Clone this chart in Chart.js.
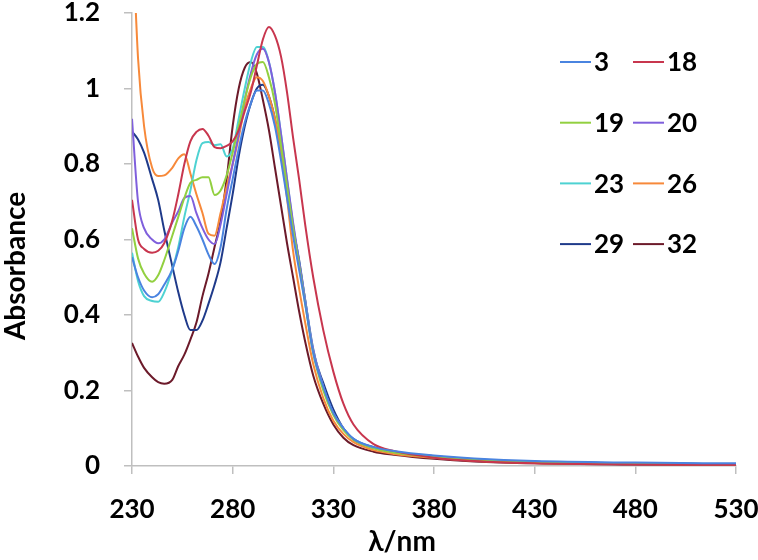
<!DOCTYPE html>
<html>
<head>
<meta charset="utf-8">
<script src="https://cdn.jsdelivr.net/npm/chart.js@4.4.0/dist/chart.umd.min.js"></script>
<style>
  html, body { margin: 0; padding: 0; background: #fff; }
</style>
</head>
<body>
<canvas id="chart1" width="758" height="560"></canvas>
<script>
// wavelengths (nm) shared by all spectra
let wavelengths = [230, 233, 236, 240, 243, 246, 250, 253, 256, 259, 262, 265, 268, 271, 274, 277, 280, 283, 286, 289, 292, 295, 298, 301, 304, 307, 310, 313, 316, 320, 325, 330, 335, 340, 350, 360, 380, 400, 430, 480, 530]

let labels = ['3', '18', '19', '20', '23', '26', '29', '32']

let abs3  = [0.553, 0.50, 0.465, 0.447, 0.455, 0.48, 0.52, 0.57, 0.63, 0.66, 0.635, 0.60, 0.56, 0.535, 0.58, 0.68, 0.76, 0.84, 0.91, 0.96, 0.995, 0.995, 0.96, 0.90, 0.81, 0.71, 0.61, 0.52, 0.43, 0.30, 0.21, 0.14, 0.10, 0.072, 0.05, 0.04, 0.028, 0.02, 0.013, 0.009, 0.007]
let abs18 = [0.705, 0.60, 0.575, 0.565, 0.57, 0.59, 0.65, 0.72, 0.80, 0.86, 0.885, 0.893, 0.875, 0.845, 0.842, 0.848, 0.86, 0.89, 0.94, 0.99, 1.06, 1.13, 1.163, 1.14, 1.085, 0.99, 0.87, 0.76, 0.64, 0.50, 0.36, 0.25, 0.165, 0.11, 0.058, 0.04, 0.022, 0.013, 0.007, 0.004, 0.003]
let abs19 = [0.63, 0.55, 0.51, 0.488, 0.505, 0.545, 0.61, 0.66, 0.71, 0.75, 0.758, 0.765, 0.765, 0.718, 0.73, 0.77, 0.83, 0.90, 0.97, 1.03, 1.065, 1.07, 1.03, 0.96, 0.85, 0.74, 0.63, 0.53, 0.43, 0.30, 0.20, 0.135, 0.095, 0.07, 0.047, 0.036, 0.024, 0.016, 0.010, 0.006, 0.005]
let abs20 = [0.92, 0.70, 0.63, 0.60, 0.59, 0.60, 0.645, 0.675, 0.71, 0.715, 0.67, 0.63, 0.60, 0.588, 0.64, 0.72, 0.80, 0.88, 0.97, 1.04, 1.09, 1.105, 1.07, 0.99, 0.88, 0.76, 0.645, 0.54, 0.44, 0.31, 0.21, 0.14, 0.10, 0.072, 0.048, 0.037, 0.025, 0.017, 0.011, 0.007, 0.005]
let abs23 = [0.565, 0.49, 0.45, 0.437, 0.435, 0.46, 0.52, 0.58, 0.66, 0.73, 0.81, 0.855, 0.858, 0.85, 0.852, 0.82, 0.84, 0.92, 1.00, 1.07, 1.11, 1.11, 1.07, 0.99, 0.88, 0.76, 0.64, 0.54, 0.44, 0.31, 0.21, 0.14, 0.10, 0.072, 0.048, 0.037, 0.025, 0.017, 0.011, 0.007, 0.005]
let abs26 = [1.45, 1.08, 0.90, 0.79, 0.768, 0.77, 0.79, 0.815, 0.826, 0.775, 0.72, 0.67, 0.615, 0.61, 0.67, 0.74, 0.80, 0.87, 0.95, 1.00, 1.03, 1.02, 0.98, 0.92, 0.83, 0.71, 0.57, 0.47, 0.38, 0.27, 0.18, 0.12, 0.085, 0.063, 0.042, 0.032, 0.022, 0.014, 0.008, 0.005, 0.004]
let abs29 = [0.886, 0.865, 0.83, 0.76, 0.705, 0.625, 0.53, 0.46, 0.40, 0.36, 0.36, 0.385, 0.43, 0.48, 0.54, 0.63, 0.72, 0.82, 0.90, 0.96, 1.00, 1.01, 0.98, 0.92, 0.83, 0.73, 0.63, 0.546, 0.44, 0.305, 0.22, 0.15, 0.10, 0.07, 0.05, 0.038, 0.026, 0.018, 0.011, 0.007, 0.005]
let abs32 = [0.326, 0.29, 0.26, 0.235, 0.222, 0.218, 0.228, 0.265, 0.295, 0.335, 0.38, 0.45, 0.51, 0.58, 0.65, 0.76, 0.90, 1.00, 1.055, 1.07, 1.04, 0.97, 0.89, 0.79, 0.69, 0.59, 0.50, 0.41, 0.33, 0.24, 0.165, 0.11, 0.075, 0.055, 0.038, 0.03, 0.019, 0.012, 0.007, 0.004, 0.003]

let colors = ['#4a84e0', '#c8364e', '#92d040', '#7f5fdc', '#4ed2d2', '#f7893a', '#1f3a8a', '#6c1a2a']

let xTicks = [230, 280, 330, 380, 430, 480, 530]
let yTicks = [0, 0.2, 0.4, 0.6, 0.8, 1, 1.2]
let xTitle = 'λ/nm'
let yTitle = 'Absorbance'

let series = [abs3, abs18, abs19, abs20, abs23, abs26, abs29, abs32]

let axisGrey = '#bfbfbf'
let fontFam = 'Lato, "Open Sans", sans-serif'

// legend in two columns inside the plot, plus the axis titles (they sit off-centre in the original)
const extras = {
  id: 'extras',
  afterDraw(chart) {
    const ctx = chart.ctx
    ctx.save()
    ctx.font = 'bold 26px ' + fontFam
    ctx.textBaseline = 'middle'
    ctx.fillStyle = '#000'
    chart.data.datasets.forEach((ds, i) => {
      let col = i % 2
      let row = Math.floor(i / 2)
      let x = 560 + col * 73
      let y = 62 + row * 60.7
      ctx.strokeStyle = ds.borderColor
      ctx.lineWidth = 2
      ctx.beginPath()
      ctx.moveTo(x, y)
      ctx.lineTo(x + 31, y)
      ctx.stroke()
      ctx.fillText(ds.label, x + 34, y + 1)
    })

    ctx.font = 'bold 28px ' + fontFam
    ctx.textAlign = 'center'
    ctx.fillText(xTitle, 402, 542)
    ctx.translate(16, 266)
    ctx.rotate(-Math.PI / 2)
    ctx.fillText(yTitle, 0, 0)
    ctx.restore()
  }
}

new Chart(document.getElementById('chart1'), {
  type: 'line',
  data: {
    datasets: series.map((vals, i) => ({
      label: labels[i],
      data: vals.map((v, j) => ({ x: wavelengths[j], y: v })),
      borderColor: colors[i],
      backgroundColor: colors[i],
      borderWidth: 2,
      pointRadius: 0,
      cubicInterpolationMode: 'monotone',
      fill: false
    }))
  },
  options: {
    responsive: false,
    animation: false,
    layout: { padding: { top: 13, right: 22, left: 0, bottom: 0 } },
    plugins: {
      legend: { display: false },
      tooltip: { enabled: false }
    },
    scales: {
      x: {
        type: 'linear',
        min: 230,
        max: 530,
        afterBuildTicks: (s) => { s.ticks = xTicks.map(v => ({ value: v })) },
        afterFit: (s) => { s.height = 94; s.paddingLeft = 0; s.paddingRight = 0 },
        grid: { drawOnChartArea: false, color: axisGrey, tickLength: 8, lineWidth: 1.5 },
        border: { color: axisGrey, width: 1.5 },
        ticks: { color: '#000', padding: 20, maxRotation: 0, font: { family: fontFam, size: 26, weight: 'bold' } }
      },
      y: {
        min: 0,
        max: 1.2,
        afterBuildTicks: (s) => { s.ticks = yTicks.map(v => ({ value: v })) },
        afterFit: (s) => { s.width = 132; s.paddingTop = 0; s.paddingBottom = 0 },
        grid: { drawOnChartArea: false, color: axisGrey, tickLength: 8, lineWidth: 1.5 },
        border: { color: axisGrey, width: 1.5 },
        ticks: { color: '#000', padding: 24, callback: v => String(v), font: { family: fontFam, size: 26, weight: 'bold' } }
      }
    }
  },
  plugins: [extras]
})
</script>
</body>
</html>
